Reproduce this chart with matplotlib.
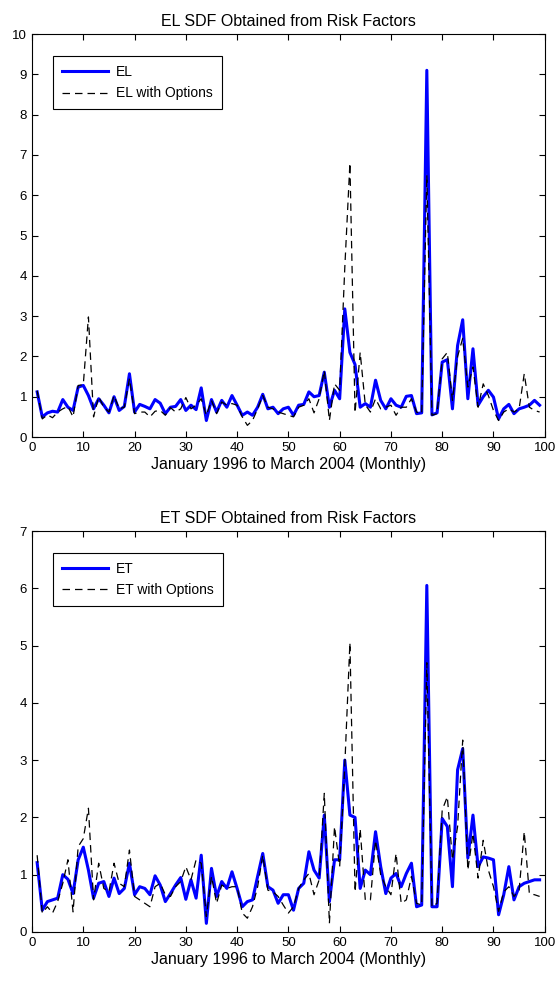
import matplotlib
matplotlib.use('Agg')
import matplotlib.pyplot as plt
import numpy as np

plt.rcParams['font.family'] = ['Liberation Sans', 'DejaVu Sans']

months = list(range(1, 100))

# EL SDF (top panel)
el = [1.12, 0.50, 0.60, 0.64, 0.62, 0.93, 0.74, 0.66, 1.24, 1.28,
      1.03, 0.70, 0.95, 0.79, 0.60, 1.00, 0.66, 0.76, 1.57, 0.62,
      0.81, 0.76, 0.70, 0.93, 0.84, 0.58, 0.74, 0.76, 0.93, 0.66,
      0.79, 0.68, 1.22, 0.41, 0.93, 0.62, 0.91, 0.74, 1.03, 0.79,
      0.54, 0.62, 0.54, 0.74, 1.06, 0.70, 0.74, 0.58, 0.70, 0.74,
      0.54, 0.79, 0.81, 1.12, 1.00, 1.03, 1.61, 0.74, 1.16, 0.95,
      3.18, 2.10, 1.80, 0.74, 0.83, 0.74, 1.41, 0.91, 0.70, 0.95,
      0.79, 0.74, 1.01, 1.03, 0.58, 0.60, 9.10, 0.55, 0.60, 1.86,
      1.92, 0.70, 2.27, 2.91, 0.95, 2.19, 0.79, 1.00, 1.16, 0.99,
      0.45, 0.70, 0.81, 0.58, 0.70, 0.74, 0.79, 0.91, 0.79]
el_opt = [1.15, 0.45, 0.55, 0.48, 0.62, 0.70, 0.76, 0.50, 1.28, 1.30,
          2.98, 0.50, 1.00, 0.74, 0.62, 1.03, 0.70, 0.74, 1.45, 0.58,
          0.62, 0.62, 0.50, 0.64, 0.66, 0.54, 0.73, 0.62, 0.70, 0.98,
          0.70, 0.79, 0.95, 0.54, 0.91, 0.58, 0.87, 0.79, 0.83, 0.79,
          0.50, 0.29, 0.41, 0.70, 1.03, 0.74, 0.70, 0.62, 0.58, 0.54,
          0.50, 0.74, 0.79, 0.95, 0.60, 0.95, 1.65, 0.41, 1.32, 1.16,
          4.20, 6.80, 0.60, 2.10, 0.80, 0.62, 0.95, 0.70, 0.74, 0.79,
          0.54, 0.74, 0.74, 0.95, 0.62, 0.58, 6.50, 0.54, 0.58, 1.94,
          2.10, 0.91, 2.00, 2.45, 1.24, 1.74, 0.74, 1.32, 1.03, 0.66,
          0.41, 0.62, 0.70, 0.62, 0.70, 1.57, 0.74, 0.66, 0.62]

# ET SDF (bottom panel)
et = [1.21, 0.38, 0.53, 0.56, 0.59, 1.00, 0.92, 0.67, 1.26, 1.48,
      1.08, 0.59, 0.85, 0.88, 0.62, 0.94, 0.67, 0.76, 1.20, 0.65,
      0.79, 0.76, 0.65, 0.98, 0.82, 0.53, 0.67, 0.82, 0.95, 0.57,
      0.91, 0.59, 1.34, 0.15, 1.11, 0.62, 0.88, 0.76, 1.05, 0.76,
      0.44, 0.53, 0.56, 0.97, 1.37, 0.79, 0.73, 0.50, 0.65, 0.65,
      0.38, 0.76, 0.85, 1.40, 1.08, 0.94, 2.04, 0.53, 1.26, 1.26,
      3.00, 2.04, 2.00, 0.76, 1.08, 1.00, 1.75, 1.14, 0.67, 0.94,
      1.02, 0.79, 1.02, 1.20, 0.44, 0.47, 6.05, 0.44, 0.44, 1.98,
      1.84, 0.79, 2.83, 3.20, 1.29, 2.04, 1.14, 1.31, 1.29, 1.26,
      0.30, 0.65, 1.14, 0.56, 0.79, 0.85, 0.88, 0.91, 0.91]
et_opt = [1.34, 0.33, 0.44, 0.33, 0.53, 0.85, 1.26, 0.35, 1.49, 1.63,
          2.16, 0.56, 1.20, 0.76, 0.70, 1.20, 0.85, 0.79, 1.43, 0.62,
          0.56, 0.50, 0.44, 0.79, 0.85, 0.65, 0.62, 0.79, 0.88, 1.14,
          0.91, 1.26, 1.20, 0.27, 0.97, 0.50, 0.82, 0.76, 0.79, 0.79,
          0.33, 0.24, 0.44, 0.79, 1.34, 0.73, 0.70, 0.62, 0.47, 0.33,
          0.44, 0.76, 0.91, 1.02, 0.65, 0.91, 2.42, 0.15, 1.84, 1.14,
          2.90, 5.05, 0.70, 1.80, 0.56, 0.56, 1.60, 1.00, 0.79, 0.65,
          1.37, 0.50, 0.56, 0.97, 0.50, 0.47, 4.70, 0.44, 0.50, 2.13,
          2.36, 1.26, 1.84, 3.35, 1.08, 1.72, 0.94, 1.60, 1.08, 0.79,
          0.36, 0.70, 0.79, 0.62, 0.73, 1.75, 0.67, 0.65, 0.62]

panels = [
    ('EL SDF Obtained from Risk Factors', el, el_opt, 'EL', 10, [0.0575, 0.5545, 0.9205, 0.4108]),
    ('ET SDF Obtained from Risk Factors', et, et_opt, 'ET', 7, [0.0575, 0.050, 0.9205, 0.4087]),
]

fig = plt.figure(figsize=(5.57, 9.81), dpi=100)

for title, base, opt, name, ytop, rect in panels:
    ax = fig.add_axes(rect)
    ax.plot(months, base, color='#0000ff', lw=2.2, label=name)
    ax.plot(months, opt, color='black', lw=0.9, ls=(0, (6, 4)), label=name + ' with Options')
    ax.set_xlim(0, 100)
    ax.set_ylim(0, ytop)
    ax.set_xticks(np.arange(0, 101, 10))
    ax.set_yticks(np.arange(0, ytop + 1, 1))
    ax.tick_params(direction='in', top=True, right=True, labelsize=9.5, length=4, width=0.8)
    for s in ax.spines.values():
        s.set_linewidth(0.8)
    ax.set_title(title, fontsize=11.5, pad=6)
    ax.set_xlabel('January 1996 to March 2004 (Monthly)', fontsize=11.5, labelpad=2)
    leg = ax.legend(loc='upper left', bbox_to_anchor=(0.041, 0.946), borderaxespad=0,
                    fontsize=10, fancybox=False, framealpha=1, edgecolor='black',
                    handlelength=3.3, handletextpad=0.6, borderpad=0.65, labelspacing=0.55)
    leg.get_frame().set_linewidth(0.8)

fig.savefig('out.png', dpi=100)
